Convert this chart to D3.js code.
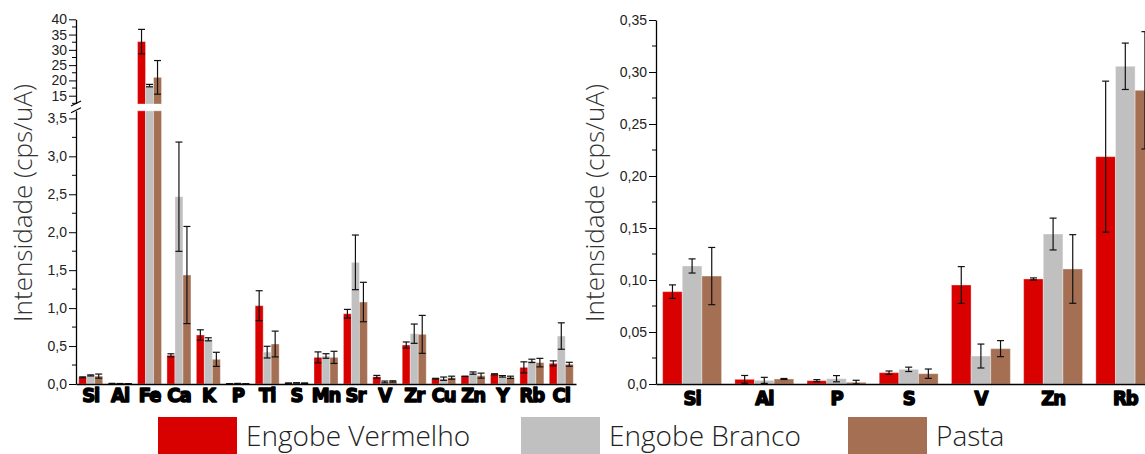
<!DOCTYPE html>
<html><head><meta charset="utf-8">
<script src="https://cdn.jsdelivr.net/npm/d3@7/dist/d3.min.js"></script>
<style>
body{margin:0;background:#fff;}
svg{display:block;}
.tick text{font-family:"Liberation Sans",Arial,sans-serif;font-size:14px;fill:#222;}
.tick text.cat{font-family:"DejaVu Sans Condensed","DejaVu Sans",sans-serif;font-weight:bold;font-size:20px;fill:#000;stroke:#000;stroke-width:1.5px;stroke-linejoin:round;letter-spacing:-1px;}
.ttl{font-family:"Open Sans",sans-serif;font-weight:300;font-size:26px;fill:#333;}
.leg{font-family:"Open Sans",sans-serif;font-weight:300;font-size:28px;fill:#222;}
</style></head><body>
<svg id="c" width="1145" height="454"></svg>
<script>
// ---------- data ----------
const series = ["Engobe Vermelho","Engobe Branco","Pasta"];
const colors = ["#d90000","#c0c0c0","#a56f53"];

const leftCats = ["Si","Al","Fe","Ca","K","P","Ti","S","Mn","Sr","V","Zr","Cu","Zn","Y","Rb","Cl"];
const leftVermelho = [0.088,0.0045,32.7,0.378,0.646,0.0032,1.032,0.011,0.351,0.926,0.095,0.514,0.070,0.101,0.128,0.219,0.272];
const leftBranco   = [0.113,0.0035,18.3,2.468,0.589,0.0051,0.420,0.014,0.369,1.603,0.027,0.663,0.070,0.144,0.101,0.305,0.632];
const leftPasta    = [0.104,0.0048,21.0,1.436,0.325,0.0016,0.527,0.010,0.351,1.080,0.034,0.654,0.083,0.110,0.088,0.282,0.260];
const leftErrVermelho = [0.006,0.004,4.0,0.02,0.068,0.001,0.197,0.0016,0.072,0.057,0.018,0.040,0.005,0.001,0.007,0.073,0.033];
const leftErrBranco   = [0.007,0.003,0.4,0.72,0.020,0.003,0.077,0.002,0.030,0.360,0.012,0.127,0.022,0.015,0.010,0.022,0.174];
const leftErrPasta    = [0.027,0.0005,5.5,0.64,0.093,0.002,0.170,0.0045,0.080,0.260,0.008,0.250,0.020,0.033,0.015,0.056,0.026];
const leftLowTicks = [0,0.5,1.0,1.5,2.0,2.5,3.0,3.5];
const leftHighTicks = [15,20,25,30,35,40];

const rightCats = ["Si","Al","P","S","V","Zn","Rb"];
const rightVermelho = [0.0888,0.0045,0.0032,0.0109,0.0952,0.1010,0.2186];
const rightBranco   = [0.1135,0.0035,0.0051,0.0141,0.0269,0.1442,0.3055];
const rightPasta    = [0.1038,0.0048,0.0016,0.0099,0.0340,0.1106,0.2824];
const rightErrVermelho = [0.0065,0.0037,0.0010,0.0016,0.0177,0.0010,0.0726];
const rightErrBranco   = [0.0068,0.0029,0.0030,0.0021,0.0115,0.0153,0.0223];
const rightErrPasta    = [0.0275,0.0005,0.0020,0.0045,0.0077,0.0330,0.0564];
const rightTicks = [0,0.05,0.10,0.15,0.20,0.25,0.30,0.35];

const yTitle = "Intensidade (cps/uA)";
const fmt = v => d3.format(".1f")(v).replace(".", ",");
const fmt2 = v => d3.format(".2f")(v).replace(".", ",");

const svg = d3.select("#c");
let yPoint;

function drawBars(g, cats, vals, errs, x, segsOf){
  const slot = x.bandwidth();
  const xin = d3.scaleBand().domain(d3.range(3)).range([slot*0.092, slot*0.908]);
  cats.forEach((c,i)=>{
    for(let s=0;s<3;s++){
      const v = vals[s][i], e = errs[s][i];
      const x0 = x(c)+xin(s), w = xin.bandwidth();
      segsOf(v).forEach(sg=>{
        g.append("rect").attr("x",x0).attr("y",sg[0]).attr("width",w).attr("height",Math.max(0,sg[1]-sg[0]))
          .attr("fill",colors[s]).attr("stroke","#fff").attr("stroke-opacity",0.35).attr("stroke-width",1);
      });
      const yt = yPoint(v+e), yb = yPoint(v-e);
      const cx = x0+w/2, cw = 3.5;
      const eg = g.append("g").attr("stroke","#111").attr("stroke-width",1.2);
      eg.append("line").attr("x1",cx).attr("x2",cx).attr("y1",yt).attr("y2",yb);
      eg.append("line").attr("x1",cx-cw).attr("x2",cx+cw).attr("y1",yt).attr("y2",yt);
      eg.append("line").attr("x1",cx-cw).attr("x2",cx+cw).attr("y1",yb).attr("y2",yb);
    }
  });
}

// ---------- LEFT PANEL ----------
const L = {x0:76, x1:576, y0:384};
const xL = d3.scaleBand().domain(leftCats).range([L.x0, L.x1]).padding(0);
const yLow = d3.scaleLinear().domain([0,3.6]).range([384,110.8]);
const yHigh = d3.scaleLinear().domain([12.28,40]).range([104,19.3]);
const gL = svg.append("g");
yPoint = v => v <= 3.6 ? yLow(Math.max(0,v)) : yHigh(v);
drawBars(gL, leftCats, [leftVermelho,leftBranco,leftPasta], [leftErrVermelho,leftErrBranco,leftErrPasta], xL,
  v => v <= 3.6 ? [[yLow(v), yLow(0)]] : [[yLow(3.6), yLow(0)],[yHigh(v), yHigh(12.28)]]);

const axLow = d3.axisLeft(yLow).tickValues(leftLowTicks).tickFormat(fmt).tickSize(7).tickSizeOuter(0);
const gyl = svg.append("g").attr("transform",`translate(${L.x0},0)`).call(axLow);
gyl.selectAll(".mn").data(d3.range(0.25,3.6,0.5)).enter().append("line").attr("x1",-4).attr("x2",0).attr("y1",d=>yLow(d)).attr("y2",d=>yLow(d)).attr("stroke","#000");
const axHigh = d3.axisLeft(yHigh).tickValues(leftHighTicks).tickFormat(d3.format("d")).tickSize(7).tickSizeOuter(0);
const gyh = svg.append("g").attr("transform",`translate(${L.x0},0)`).call(axHigh);
gyh.selectAll(".mn").data([12.5,17.5,22.5,27.5,32.5,37.5]).enter().append("line").attr("x1",-4).attr("x2",0).attr("y1",d=>yHigh(d)).attr("y2",d=>yHigh(d)).attr("stroke","#000");
[gyl,gyh].forEach(g=>{g.select(".domain").attr("stroke","#000").attr("stroke-width",1.3);g.selectAll(".tick line").attr("stroke","#000");g.selectAll(".tick text").attr("x",-9);});
// break marks
const bk = svg.append("g").attr("stroke","#000").attr("stroke-width",1.2);
bk.append("rect").attr("x",L.x0-2).attr("y",yHigh(12.28)).attr("width",4).attr("height",yLow(3.6)-yHigh(12.28)).attr("fill","#fff").attr("stroke","none");
bk.append("line").attr("x1",L.x0-5).attr("y1",yHigh(12.28)+2).attr("x2",L.x0+5).attr("y2",yHigh(12.28)-3);
bk.append("line").attr("x1",L.x0-5).attr("y1",yLow(3.6)+2).attr("x2",L.x0+5).attr("y2",yLow(3.6)-3);

const gxl = svg.append("g").attr("transform",`translate(0,${L.y0})`).call(d3.axisBottom(xL).tickSize(0).tickSizeOuter(0));
gxl.select(".domain").attr("stroke","#000").attr("stroke-width",1.5);
gxl.selectAll(".tick text").attr("class","cat").attr("y",4).attr("dy","0.71em");

svg.append("text").attr("class","ttl").attr("text-anchor","middle")
  .attr("transform","translate(32,203) rotate(-90)").text(yTitle);

// ---------- RIGHT PANEL ----------
const R = {x0:656, y0:384};
const xR = d3.scaleBand().domain(rightCats).range([R.x0, R.x0+7*72.2]).padding(0);
const yR = d3.scaleLinear().domain([0,0.35]).range([384,20]);
const gR = svg.append("g");
yPoint = v => yR(Math.max(0,v));
drawBars(gR, rightCats, [rightVermelho,rightBranco,rightPasta], [rightErrVermelho,rightErrBranco,rightErrPasta], xR,
  v => [[yR(v), yR(0)]]);
const axR = d3.axisLeft(yR).tickValues(rightTicks).tickFormat(v=> v===0 ? "0,0" : fmt2(v)).tickSize(7).tickSizeOuter(0);
const gyr = svg.append("g").attr("transform",`translate(${R.x0},0)`).call(axR);
gyr.selectAll(".mn").data(d3.range(0.025,0.35,0.05)).enter().append("line").attr("x1",-4).attr("x2",0).attr("y1",d=>yR(d)).attr("y2",d=>yR(d)).attr("stroke","#000");
gyr.select(".domain").attr("stroke","#000").attr("stroke-width",1.3);
gyr.selectAll(".tick line").attr("stroke","#000");
gyr.selectAll(".tick text").attr("x",-9);
const gxr = svg.append("g").attr("transform",`translate(0,${R.y0})`).call(d3.axisBottom(xR).tickSize(0).tickSizeOuter(0));
gxr.select(".domain").attr("stroke","#000").attr("stroke-width",1.5);
gxr.selectAll(".tick text").attr("class","cat").attr("y",7).attr("dy","0.71em");
svg.append("text").attr("class","ttl").attr("text-anchor","middle")
  .attr("transform","translate(604,203) rotate(-90)").text(yTitle);

// ---------- LEGEND ----------
const legX = [158,521,848];
const lg = svg.append("g");
series.forEach((s,i)=>{
  lg.append("rect").attr("x",legX[i]).attr("y",417).attr("width",79).attr("height",40).attr("fill",colors[i]);
  lg.append("text").attr("class","leg").attr("x",legX[i]+88).attr("y",446).text(s);
});
</script></body></html>
